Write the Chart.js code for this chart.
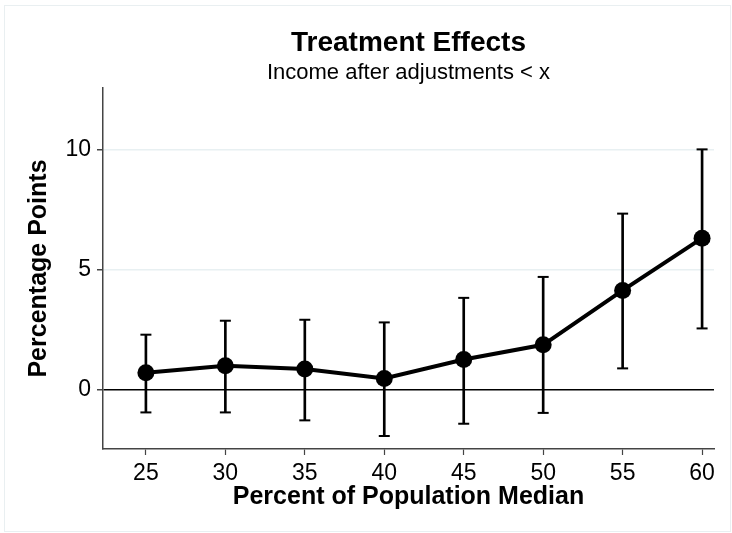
<!DOCTYPE html>
<html>
<head>
<meta charset="utf-8">
<title>Treatment Effects</title>
<script src="https://cdn.jsdelivr.net/npm/chart.js@4/dist/chart.umd.min.js"></script>
<style>
  html, body { margin: 0; padding: 0; background: #fff; }
  #wrap { width: 732px; height: 533px; position: relative; }
</style>
</head>
<body>
<div id="wrap"><canvas id="chart" width="732" height="533"></canvas></div>
<script>
// Percent of population median (x categories)
const thresholds = [25, 30, 35, 40, 45, 50, 55, 60];
// Point estimates, percentage points
const estimates = [0.72, 1.01, 0.87, 0.48, 1.27, 1.88, 4.14, 6.31];
// Confidence interval bounds
const ciLow  = [-0.93, -0.93, -1.26, -1.91, -1.40, -0.95, 0.90, 2.56];
const ciHigh = [2.30, 2.88, 2.92, 2.81, 3.83, 4.70, 7.33, 10.00];
// Axis tick labels
const yTicks = [0, 5, 10];
const xTicks = thresholds;

const FONT = "'Liberation Sans', Arial, Helvetica, sans-serif";

const frame = {
  id: 'frame',
  beforeDraw(chart) {
    const c = chart.ctx;
    c.save();
    c.fillStyle = '#ffffff';
    c.fillRect(0, 0, chart.width, chart.height);
    c.strokeStyle = '#e9eff1';
    c.lineWidth = 1;
    c.strokeRect(4.5, 5.5, 726, 526);
    c.restore();
  }
};

new Chart(document.getElementById('chart'), {
  type: 'scatter',
  data: {
    datasets: [
      {
        type: 'line',
        data: thresholds.map((x, i) => ({ x, y: estimates[i] })),
        borderColor: '#000',
        backgroundColor: '#000',
        borderWidth: 4,
        pointRadius: 8.5,
        pointBackgroundColor: '#000',
        pointBorderWidth: 0,
        showLine: true,
        tension: 0,
        order: 0
      },
      {
        type: 'bar',
        data: thresholds.map((x, i) => ({ x, y: [ciLow[i], ciHigh[i]] })),
        backgroundColor: '#000',
        borderWidth: 0,
        barThickness: 2,
        order: 2
      },
      {
        type: 'scatter',
        data: thresholds.map((x, i) => ({ x, y: ciLow[i] }))
          .concat(thresholds.map((x, i) => ({ x, y: ciHigh[i] }))),
        pointStyle: 'line',
        pointRadius: 5.5,
        borderColor: '#000',
        borderWidth: 2,
        showLine: false,
        order: 1
      }
    ]
  },
  options: {
    responsive: false,
    animation: false,
    events: [],
    layout: { padding: { left: 0, right: 18, top: 0, bottom: 0 } },
    plugins: {
      legend: { display: false },
      tooltip: { enabled: false },
      title: {
        display: true,
        text: 'Treatment Effects',
        fullSize: false,
        color: '#000',
        font: { family: FONT, size: 28, weight: 'bold', lineHeight: 1 },
        padding: { top: 29, bottom: 0 }
      },
      subtitle: {
        display: true,
        text: 'Income after adjustments < x',
        fullSize: false,
        color: '#000',
        font: { family: FONT, size: 22, weight: 'normal', lineHeight: 1 },
        padding: { top: 5, bottom: 4 }
      }
    },
    scales: {
      x: {
        type: 'linear',
        position: 'bottom',
        min: 22.3,
        max: 60.75,
        offset: false,
        afterBuildTicks: s => { s.ticks = xTicks.map(v => ({ value: v })); },
        afterFit: s => { s.height = 84; },
        grid: { offset: false, drawOnChartArea: false, drawTicks: true, tickLength: 6, tickColor: '#444', tickWidth: 1.2 },
        border: { display: true, color: '#444', width: 1.5 },
        ticks: {
          color: '#000', padding: 5, maxRotation: 0, autoSkip: false,
          font: { family: FONT, size: 23 },
          callback: v => String(v)
        },
        title: {
          display: true,
          text: 'Percent of Population Median',
          color: '#000',
          font: { family: FONT, size: 25, weight: 'bold', lineHeight: 1.2 },
          padding: { top: 0, bottom: 21 }
        }
      },
      y: {
        type: 'linear',
        position: 'left',
        min: -2.45,
        max: 12.55,
        afterBuildTicks: s => { s.ticks = yTicks.map(v => ({ value: v })); },
        afterFit: s => { s.width = 103; },
        grid: {
          drawTicks: true,
          tickLength: 6,
          tickColor: '#444',
          color: c => (c.tick && c.tick.value === 0) ? '#000' : '#e8f0f2',
          lineWidth: 1.5
        },
        border: { display: true, color: '#444', width: 1.5 },
        ticks: {
          color: '#000', padding: 6,
          font: { family: FONT, size: 23 },
          callback: v => String(v)
        },
        title: {
          display: true,
          text: 'Percentage Points',
          color: '#000',
          font: { family: FONT, size: 25, weight: 'bold', lineHeight: 1.2 },
          padding: { top: 24, bottom: 0 }
        }
      }
    }
  },
  plugins: [frame]
});
</script>
</body>
</html>
